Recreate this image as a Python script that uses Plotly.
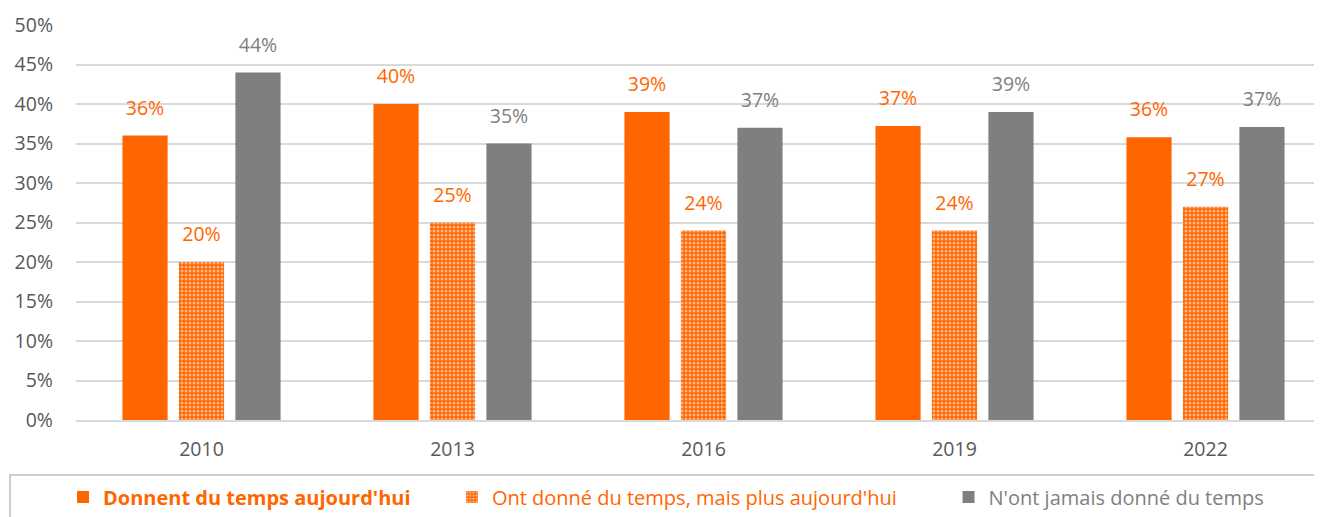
import plotly.graph_objects as go

years = ["2010", "2013", "2016", "2019", "2022"]
donnent = [36, 40, 39, 37.2, 35.8]
ont_donne = [20, 25, 24, 24, 27]
jamais = [44, 35, 37, 39, 37.1]

names = ["Donnent du temps aujourd'hui",
         "Ont donné du temps, mais plus aujourd'hui",
         "N'ont jamais donné du temps"]
ORANGE = "#FF6600"
GREY = "#7F7F7F"
FONT = "Open Sans"
FS = 19.5

BODY = 8                      # default page body margin
W, H = 1322 - BODY, 517
ML, MR = 76 - BODY, 0
MT = 25 - BODY
MB = H - (420 - BODY)
px_per_cat = 251.0
x_end = -0.5 + (W - ML - MR) / px_per_cat

plot_w = W - ML - MR
plot_h = H - MT - MB


def px_x(p):  # screen px -> paper
    return (p - BODY - ML) / plot_w


def px_y(p):
    return (H - MB - (p - BODY)) / plot_h


NB = "\u00a0"
series = [
    (donnent, names[0], ORANGE, "1",
     dict(color=ORANGE, line=dict(width=0)), True, 7),
    (ont_donne, names[1], ORANGE, "2",
     dict(color=ORANGE, line=dict(width=0),
          pattern=dict(shape=".", fgcolor="white", bgcolor=ORANGE,
                       size=4, solidity=0.45, fillmode="overlay")), False, 9),
    (jamais, names[2], GREY, "3",
     dict(color=GREY, line=dict(width=0)), False, 0),
]

fig = go.Figure()
for vals, nm, col, grp, mk, bold, pad in series:
    label = f"<span style='color:{col}'>{nm}{NB * pad}</span>"
    if bold:
        label = f"<b>{label}</b>"
    fig.add_trace(go.Bar(
        x=years, y=vals, name=label, offsetgroup=grp,
        marker=mk, hoverinfo="skip",
    ))
for vals, nm, col, grp, mk, bold, pad in series:
    fig.add_trace(go.Scatter(
        x=years, y=vals, offsetgroup=grp, mode="markers+text",
        text=[f"{v:.0f}%" for v in vals], textposition="top center",
        textfont=dict(color=col, size=FS, family=FONT),
        marker=dict(size=24, color="rgba(0,0,0,0)"),
        showlegend=False, cliponaxis=False, hoverinfo="skip",
    ))

# legend box
fig.add_shape(type="rect", xref="paper", yref="paper",
              x0=px_x(10), x1=px_x(1318), y0=px_y(540), y1=px_y(475),
              line=dict(color="#BFBFBF", width=1.5), fillcolor="rgba(0,0,0,0)")

fig.update_layout(
    width=W, height=H,
    margin=dict(l=ML, r=MR, t=MT, b=MB, pad=0),
    paper_bgcolor="white", plot_bgcolor="white",
    font=dict(family=FONT, size=FS, color="#595959"),
    barmode="group", bargap=0.325, bargroupgap=0.2,
    scattermode="group", scattergap=0.325,
    showlegend=True,
    legend=dict(orientation="h", x=px_x(63), xanchor="left",
                y=px_y(497), yanchor="middle",
                font=dict(size=20, family=FONT),
                itemwidth=30, tracegroupgap=0,
                bgcolor="rgba(0,0,0,0)"),
    xaxis=dict(type="category", range=[-0.5, x_end], showgrid=False,
               showline=True, linecolor="#D9D9D9", linewidth=1.5,
               ticks="", ticklabelstandoff=11,
               tickfont=dict(size=FS, color="#595959", family=FONT)),
    yaxis=dict(range=[0, 50], dtick=5, ticksuffix="%",
               showgrid=True, gridcolor="#D9D9D9", gridwidth=1.5,
               zeroline=False, showline=False, ticks="",
               ticklabelstandoff=22,
               tickfont=dict(size=FS, color="#595959", family=FONT)),
)

fig.write_html("out.html")
